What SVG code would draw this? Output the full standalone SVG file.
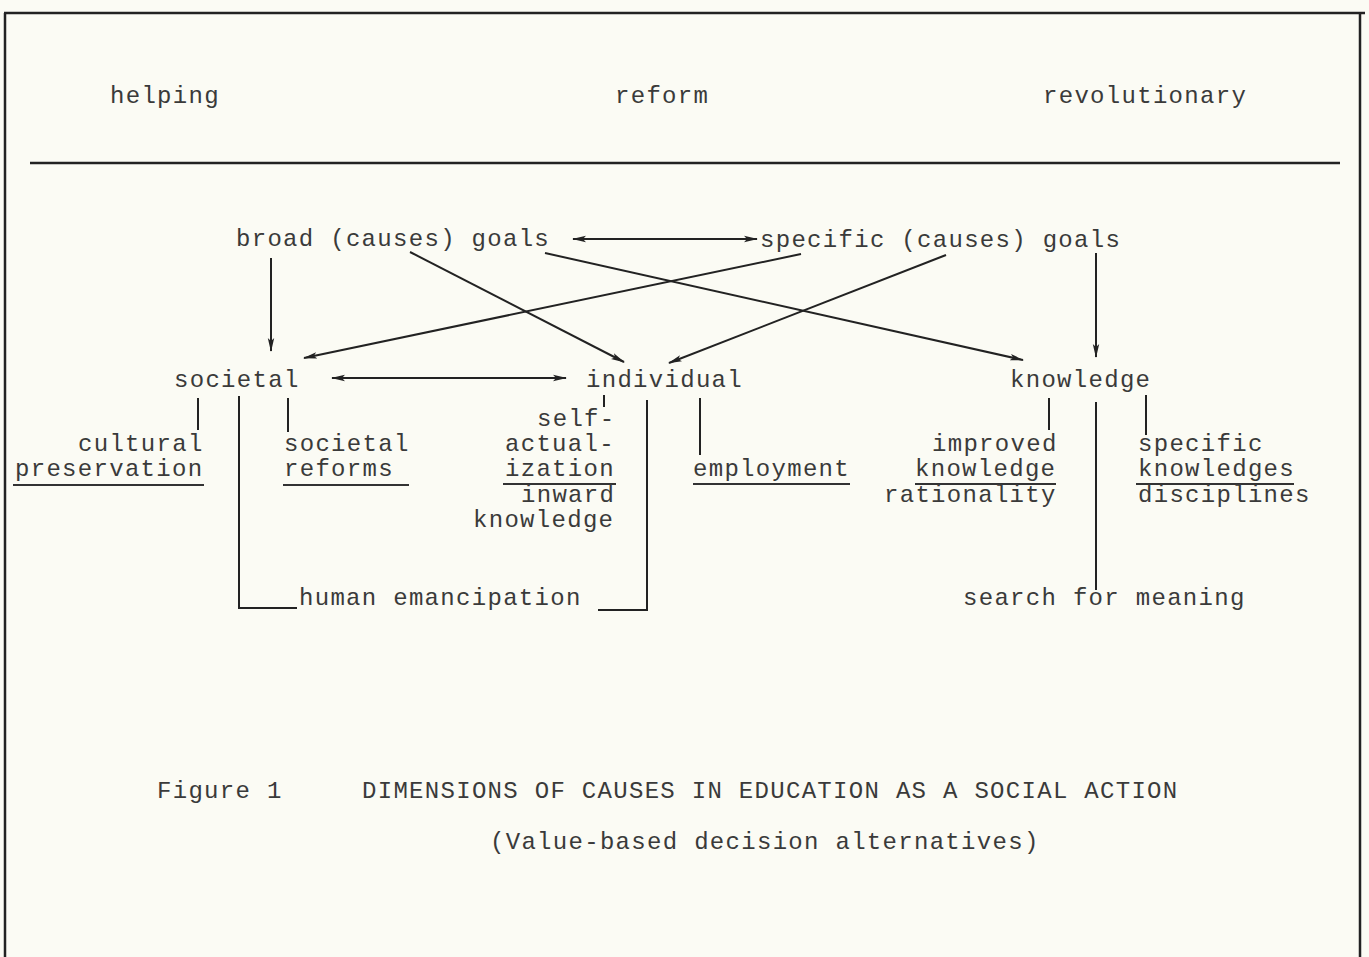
<svg xmlns="http://www.w3.org/2000/svg" width="1369" height="957" viewBox="0 0 1369 957">
<style>
text{font-family:"Liberation Mono","DejaVu Sans Mono",monospace;font-size:24px;letter-spacing:1.3px;fill:#3a3a3a}
.ln{stroke:#222;stroke-width:2;fill:none}
.fr{stroke:#222;stroke-width:2.5;fill:none}
.ul{stroke:#333;stroke-width:1.8}
</style>
<defs>
<marker id="ah" viewBox="0 0 14 8" refX="13" refY="4" markerWidth="14" markerHeight="8" markerUnits="userSpaceOnUse" orient="auto-start-reverse">
<path d="M0,0.8 L14,4 L0,7.2 L3,4 Z" fill="#222"/>
</marker>
</defs>
<rect width="1369" height="957" fill="#fbfbf4"/>
<g id="frame">
<line class="fr" x1="4" y1="13" x2="1365" y2="13"/>
<line class="fr" x1="5" y1="13" x2="5" y2="957"/>
<line class="fr" x1="1360" y1="13" x2="1360" y2="957"/>
<line class="fr" x1="30" y1="163" x2="1340" y2="163"/>
</g>
<g id="header">
<text x="110" y="103">helping</text>
<text x="615" y="103">reform</text>
<text x="1043" y="103">revolutionary</text>
</g>
<g id="n-broad"><text x="236" y="246">broad (causes) goals</text></g>
<g id="n-specific"><text x="760" y="247">specific (causes) goals</text></g>
<g id="n-societal"><text x="174" y="387">societal</text></g>
<g id="n-individual"><text x="586" y="387">individual</text></g>
<g id="n-knowledge"><text x="1010" y="387">knowledge</text></g>
<g id="n-cultural"><text x="78" y="451">cultural</text><text x="15" y="476">preservation</text><line class="ul" x1="13" y1="485" x2="204" y2="485"/></g>
<g id="n-reforms"><text x="284" y="451">societal</text><text x="284" y="476">reforms</text><line class="ul" x1="283" y1="485" x2="409" y2="485"/></g>
<g id="n-self"><text x="537" y="426">self-</text><text x="505" y="451">actual-</text><text x="505" y="476">ization</text><line class="ul" x1="503" y1="484" x2="616" y2="484"/><text x="521" y="502">inward</text><text x="473" y="527">knowledge</text></g>
<g id="n-employment"><text x="693" y="476">employment</text><line class="ul" x1="693" y1="484" x2="850" y2="484"/></g>
<g id="n-improved"><text x="932" y="451">improved</text><text x="915" y="476">knowledge</text><line class="ul" x1="915" y1="484" x2="1056" y2="484"/><text x="884" y="502">rationality</text></g>
<g id="n-specknow"><text x="1138" y="451">specific</text><text x="1138" y="476">knowledges</text><line class="ul" x1="1136" y1="484" x2="1294" y2="484"/><text x="1138" y="502">disciplines</text></g>
<g id="n-emancipation"><text x="299" y="605">human emancipation</text></g>
<g id="n-meaning"><text x="963" y="605">search for meaning</text></g>
<g id="caption">
<text x="157" y="798">Figure  1</text>
<text x="362" y="798">DIMENSIONS OF CAUSES IN EDUCATION AS A SOCIAL ACTION</text>
<text x="490" y="849">(Value-based decision alternatives)</text>
</g>
<g id="connectors">
<line class="ln" x1="573" y1="239" x2="757" y2="239" marker-start="url(#ah)" marker-end="url(#ah)"/>
<line class="ln" x1="271" y1="258" x2="271" y2="351" marker-end="url(#ah)"/>
<line class="ln" x1="410" y1="252" x2="624" y2="362" marker-end="url(#ah)"/>
<line class="ln" x1="545" y1="253" x2="1023" y2="360" marker-end="url(#ah)"/>
<line class="ln" x1="801" y1="254" x2="304" y2="358" marker-end="url(#ah)"/>
<line class="ln" x1="946" y1="255" x2="669" y2="363" marker-end="url(#ah)"/>
<line class="ln" x1="1096" y1="253" x2="1096" y2="357" marker-end="url(#ah)"/>
<line class="ln" x1="332" y1="378" x2="566" y2="378" marker-start="url(#ah)" marker-end="url(#ah)"/>
<line class="ln" x1="198" y1="398" x2="198" y2="430"/>
<line class="ln" x1="288" y1="398" x2="288" y2="432"/>
<polyline class="ln" points="239,396 239,608 297,608"/>
<line class="ln" x1="604" y1="395" x2="604" y2="407"/>
<polyline class="ln" points="647,400 647,610 598,610"/>
<line class="ln" x1="700" y1="398" x2="700" y2="455"/>
<line class="ln" x1="1049" y1="398" x2="1049" y2="430"/>
<line class="ln" x1="1096" y1="402" x2="1096" y2="590"/>
<line class="ln" x1="1146" y1="395" x2="1146" y2="435"/>
</g>
</svg>
